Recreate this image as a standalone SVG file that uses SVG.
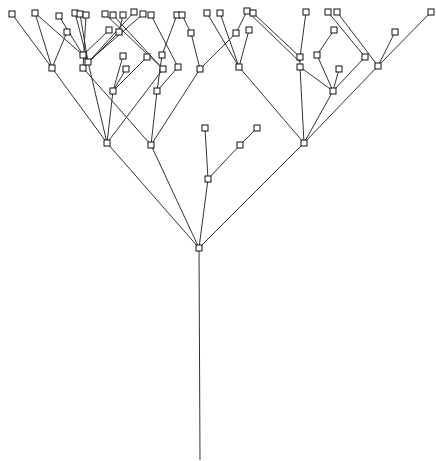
<svg xmlns="http://www.w3.org/2000/svg" width="436" height="461" viewBox="0 0 436 461">
<style>
.e{stroke:#333;stroke-width:1;fill:none}
.n rect{fill:#fff;stroke:#111;stroke-width:1}
</style>
<rect width="436" height="461" fill="#fff"/>
<g id="edges" class="e">
<line x1="200" y1="460" x2="199" y2="248"/>
<line x1="199" y1="248" x2="107" y2="143"/>
<line x1="199" y1="248" x2="151" y2="145"/>
<line x1="199" y1="248" x2="208" y2="179"/>
<line x1="199" y1="248" x2="304" y2="143"/>
<line x1="208" y1="179" x2="205" y2="128"/>
<line x1="208" y1="179" x2="240" y2="145"/>
<line x1="240" y1="145" x2="257" y2="128"/>
<line x1="107" y1="143" x2="52" y2="68"/>
<line x1="107" y1="143" x2="88" y2="62"/>
<line x1="107" y1="143" x2="113" y2="91"/>
<line x1="107" y1="143" x2="163" y2="69"/>
<line x1="151" y1="145" x2="83" y2="68"/>
<line x1="151" y1="145" x2="157" y2="91"/>
<line x1="151" y1="145" x2="200" y2="69"/>
<line x1="52" y1="68" x2="12" y2="14"/>
<line x1="52" y1="68" x2="35" y2="13"/>
<line x1="52" y1="68" x2="67" y2="32"/>
<line x1="88" y1="62" x2="83" y2="55"/>
<line x1="83" y1="55" x2="59" y2="16"/>
<line x1="83" y1="55" x2="109" y2="30"/>
<line x1="83" y1="55" x2="35" y2="13"/>
<line x1="88" y1="62" x2="75" y2="13"/>
<line x1="88" y1="62" x2="80" y2="14"/>
<line x1="88" y1="62" x2="143" y2="14"/>
<line x1="83" y1="68" x2="86" y2="15"/>
<line x1="83" y1="68" x2="134" y2="12"/>
<line x1="83" y1="68" x2="119" y2="32"/>
<line x1="119" y1="32" x2="123" y2="15"/>
<line x1="113" y1="91" x2="123" y2="56"/>
<line x1="113" y1="91" x2="126" y2="69"/>
<line x1="113" y1="91" x2="147" y2="57"/>
<line x1="163" y1="69" x2="113" y2="15"/>
<line x1="163" y1="69" x2="105" y2="14"/>
<line x1="157" y1="91" x2="162" y2="55"/>
<line x1="157" y1="91" x2="178" y2="67"/>
<line x1="162" y1="55" x2="177" y2="15"/>
<line x1="178" y1="67" x2="151" y2="15"/>
<line x1="200" y1="69" x2="191" y2="33"/>
<line x1="200" y1="69" x2="236" y2="33"/>
<line x1="191" y1="33" x2="182" y2="15"/>
<line x1="236" y1="33" x2="247" y2="11"/>
<line x1="239" y1="67" x2="207" y2="13"/>
<line x1="239" y1="67" x2="220" y2="13"/>
<line x1="239" y1="67" x2="249" y2="30"/>
<line x1="304" y1="143" x2="239" y2="67"/>
<line x1="304" y1="143" x2="300" y2="67"/>
<line x1="304" y1="143" x2="333" y2="91"/>
<line x1="304" y1="143" x2="378" y2="66"/>
<line x1="300" y1="67" x2="300" y2="57"/>
<line x1="300" y1="67" x2="333" y2="91"/>
<line x1="300" y1="57" x2="306" y2="12"/>
<line x1="300" y1="57" x2="253" y2="13"/>
<line x1="300" y1="62" x2="247" y2="11"/>
<line x1="333" y1="91" x2="317" y2="55"/>
<line x1="317" y1="55" x2="334" y2="30"/>
<line x1="333" y1="91" x2="339" y2="69"/>
<line x1="333" y1="91" x2="365" y2="57"/>
<line x1="365" y1="57" x2="328" y2="12"/>
<line x1="378" y1="66" x2="337" y2="12"/>
<line x1="378" y1="66" x2="395" y2="32"/>
<line x1="378" y1="66" x2="431" y2="12"/>
</g>
<g id="a0" class="n"><rect x="196" y="245" width="6" height="6"/></g>
<g id="a1" class="n"><rect x="104" y="140" width="6" height="6"/></g>
<g id="a2" class="n"><rect x="148" y="142" width="6" height="6"/></g>
<g id="a3" class="n"><rect x="205" y="176" width="6" height="6"/></g>
<g id="a4" class="n"><rect x="301" y="140" width="6" height="6"/></g>
<g id="a5" class="n"><rect x="202" y="125" width="6" height="6"/></g>
<g id="a6" class="n"><rect x="237" y="142" width="6" height="6"/></g>
<g id="a7" class="n"><rect x="254" y="125" width="6" height="6"/></g>
<g id="b1" class="n"><rect x="49" y="65" width="6" height="6"/></g>
<g id="b2" class="n"><rect x="80" y="65" width="6" height="6"/></g>
<g id="b3" class="n"><rect x="85" y="59" width="6" height="6"/></g>
<g id="b4" class="n"><rect x="80" y="52" width="6" height="6"/></g>
<g id="b5" class="n"><rect x="110" y="88" width="6" height="6"/></g>
<g id="b6" class="n"><rect x="160" y="66" width="6" height="6"/></g>
<g id="b7" class="n"><rect x="154" y="88" width="6" height="6"/></g>
<g id="b8" class="n"><rect x="197" y="66" width="6" height="6"/></g>
<g id="c1" class="n"><rect x="9" y="11" width="6" height="6"/></g>
<g id="c2" class="n"><rect x="32" y="10" width="6" height="6"/></g>
<g id="c3" class="n"><rect x="56" y="13" width="6" height="6"/></g>
<g id="c4" class="n"><rect x="64" y="29" width="6" height="6"/></g>
<g id="c5" class="n"><rect x="72" y="10" width="6" height="6"/></g>
<g id="c6" class="n"><rect x="77" y="11" width="6" height="6"/></g>
<g id="c7" class="n"><rect x="83" y="12" width="6" height="6"/></g>
<g id="c8" class="n"><rect x="102" y="11" width="6" height="6"/></g>
<g id="c9" class="n"><rect x="106" y="27" width="6" height="6"/></g>
<g id="c10" class="n"><rect x="110" y="12" width="6" height="6"/></g>
<g id="c11" class="n"><rect x="116" y="29" width="6" height="6"/></g>
<g id="c12" class="n"><rect x="120" y="12" width="6" height="6"/></g>
<g id="c13" class="n"><rect x="131" y="9" width="6" height="6"/></g>
<g id="c14" class="n"><rect x="140" y="11" width="6" height="6"/></g>
<g id="c15" class="n"><rect x="120" y="53" width="6" height="6"/></g>
<g id="c16" class="n"><rect x="123" y="66" width="6" height="6"/></g>
<g id="c17" class="n"><rect x="144" y="54" width="6" height="6"/></g>
<g id="c18" class="n"><rect x="148" y="12" width="6" height="6"/></g>
<g id="c19" class="n"><rect x="159" y="52" width="6" height="6"/></g>
<g id="c20" class="n"><rect x="175" y="64" width="6" height="6"/></g>
<g id="c21" class="n"><rect x="174" y="12" width="6" height="6"/></g>
<g id="c22" class="n"><rect x="179" y="12" width="6" height="6"/></g>
<g id="c23" class="n"><rect x="188" y="30" width="6" height="6"/></g>
<g id="c24" class="n"><rect x="204" y="10" width="6" height="6"/></g>
<g id="c25" class="n"><rect x="217" y="10" width="6" height="6"/></g>
<g id="c26" class="n"><rect x="233" y="30" width="6" height="6"/></g>
<g id="c27" class="n"><rect x="246" y="27" width="6" height="6"/></g>
<g id="c28" class="n"><rect x="244" y="8" width="6" height="6"/></g>
<g id="c29" class="n"><rect x="250" y="10" width="6" height="6"/></g>
<g id="c30" class="n"><rect x="236" y="64" width="6" height="6"/></g>
<g id="d1" class="n"><rect x="297" y="64" width="6" height="6"/></g>
<g id="d2" class="n"><rect x="297" y="54" width="6" height="6"/></g>
<g id="d3" class="n"><rect x="303" y="9" width="6" height="6"/></g>
<g id="d4" class="n"><rect x="314" y="52" width="6" height="6"/></g>
<g id="d5" class="n"><rect x="331" y="27" width="6" height="6"/></g>
<g id="d6" class="n"><rect x="330" y="88" width="6" height="6"/></g>
<g id="d7" class="n"><rect x="336" y="66" width="6" height="6"/></g>
<g id="d8" class="n"><rect x="362" y="54" width="6" height="6"/></g>
<g id="d9" class="n"><rect x="325" y="9" width="6" height="6"/></g>
<g id="d10" class="n"><rect x="334" y="9" width="6" height="6"/></g>
<g id="d11" class="n"><rect x="375" y="63" width="6" height="6"/></g>
<g id="d12" class="n"><rect x="392" y="29" width="6" height="6"/></g>
<g id="d13" class="n"><rect x="428" y="9" width="6" height="6"/></g>
</svg>
